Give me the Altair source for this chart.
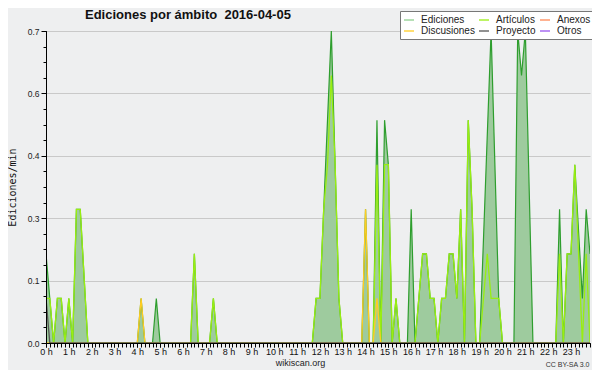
import altair as alt
import pandas as pd

# ---- data (minutes after midnight, edits per minute) ----
ed_min = [0, 10, 20, 30, 40, 50, 60, 70, 80, 90, 110,
          240, 250, 260, 280, 290, 300, 380, 390, 400, 430, 440, 450,
          700, 710, 720, 750, 760, 770, 780,
          830, 840, 850, 860, 870, 880, 890, 900, 910, 920, 930,
          950, 960, 970, 990, 1000, 1010, 1020, 1030, 1040, 1050, 1060, 1070,
          1080, 1090, 1100, 1110, 1120, 1130, 1140, 1170, 1190, 1200,
          1230, 1240, 1250, 1260, 1280,
          1340, 1350, 1360, 1370, 1380, 1390, 1410, 1420, 1430]
ed_val = [0.2, 0.1, 0, 0.1, 0.1, 0, 0.1, 0, 0.3, 0.3, 0,
          0, 0.1, 0, 0, 0.1, 0, 0, 0.2, 0, 0, 0.1, 0,
          0, 0.1, 0.1, 0.7, 0.4, 0.1, 0,
          0, 0.3, 0, 0, 0.5, 0, 0.5, 0.4, 0, 0.1, 0,
          0, 0.3, 0, 0.2, 0.2, 0.1, 0.1, 0, 0.1, 0.1, 0.2, 0.2,
          0.1, 0.3, 0, 0.5, 0.3, 0, 0, 0.7, 0.1, 0,
          0, 0.7, 0.6, 0.7, 0,
          0, 0.3, 0, 0.2, 0.2, 0.4, 0.1, 0.3, 0.2]

art_min = [0, 10, 20, 30, 40, 50, 60, 70, 80, 90, 110,
           380, 390, 400, 430, 440, 450,
           700, 710, 720, 730, 740, 750, 760, 770, 780,
           860, 870, 880, 890, 900, 910, 920, 930,
           970, 990, 1000, 1010, 1020, 1030, 1040, 1050, 1060, 1070, 1080, 1090,
           1100, 1110, 1120, 1130, 1140, 1160, 1170, 1190, 1200,
           1340, 1350, 1360, 1370, 1380, 1390, 1410, 1420, 1430]
art_val = [0.1, 0.1, 0, 0.1, 0.1, 0, 0.1, 0, 0.3, 0.3, 0,
           0, 0.2, 0, 0, 0.1, 0,
           0, 0.1, 0.1, 0.3, 0.4, 0.6, 0.4, 0.1, 0,
           0, 0.4, 0, 0.4, 0.4, 0, 0.1, 0,
           0, 0.2, 0.2, 0.1, 0.1, 0, 0.1, 0.1, 0.2, 0.2, 0.1, 0.3,
           0, 0.5, 0.3, 0, 0, 0.2, 0.1, 0.1, 0,
           0, 0.2, 0, 0.2, 0.2, 0.4, 0, 0.2, 0]

disc_min = [0, 240, 250, 260, 830, 840, 850, 860, 870, 880, 1430]
disc_val = [0, 0, 0.1, 0, 0, 0.3, 0, 0, 0.1, 0, 0]

proy_min = [0, 10, 1430]
proy_val = [0.1, 0, 0]

# legend entries (listed column by column: the legend fills its grid that way)
legend_names = ["Ediciones", "Discusiones", "Artículos", "Proyecto", "Anexos", "Otros"]
legend_colors = ["#8fd08f", "#ffcc22", "#99ee11", "#555555", "#ff8855", "#9955ee"]

hour_ticks = list(range(0, 1440, 60))
minor_x_ticks = list(range(0, 1440, 10))
major_y_ticks = [0, 0.14, 0.28, 0.42, 0.56, 0.7]
minor_y_ticks = [round(i * 0.035, 3) for i in range(21)]

# ---- frames ----
ed_df = pd.DataFrame({"t": ed_min, "v": ed_val})
art_df = pd.DataFrame({"t": art_min, "v": art_val, "s": "Artículos"})
disc_df = pd.DataFrame({"t": disc_min, "v": disc_val, "s": "Discusiones"})
proy_df = pd.DataFrame({"t": proy_min, "v": proy_val, "s": "Proyecto"})

xs = alt.Scale(domain=[0, 1430], nice=False, zero=False)
ys = alt.Scale(domain=[0, 0.7], nice=False)

x_major = alt.Axis(values=hour_ticks, labelExpr="(datum.value/60) + ' h'",
                   labelFont="Liberation Sans", labelFontSize=9, labelColor="#111",
                   labelPadding=0, tickSize=4, tickColor="black", domainColor="black",
                   labelFlush=False, labelOverlap=False, grid=False, zindex=1,
                   orient="bottom",
                   title="wikiscan.org", titleFont="Liberation Sans", titleFontSize=9,
                   titleFontWeight="normal", titleColor="#222", titleX=254, titleY=22,
                   titleAlign="center", titleBaseline="alphabetic")
y_major = alt.Axis(values=major_y_ticks, format=".1f", labelFont="Liberation Sans",
                   labelFontSize=8.5, labelColor="#222", labelPadding=2, tickSize=5,
                   tickColor="black", domainColor="black", grid=True, gridColor="#c9c9c9",
                   labelFlush=False, labelOverlap=False, orient="left",
                   title="Ediciones/min", titleFont="DejaVu Sans Mono", titleFontSize=10,
                   titleFontWeight="normal", titleColor="#111", titleX=-33.5, titleY=156,
                   titleAlign="center", titleBaseline="middle")

x_minor = alt.Axis(values=minor_x_ticks, labels=False, tickSize=4, tickColor="black",
                   domain=True, domainColor="black", grid=False, zindex=1,
                   orient="bottom",
                   title="CC BY-SA 3.0", titleFont="Liberation Sans", titleFontSize=7,
                   titleFontWeight="normal", titleColor="#333", titleX=543, titleY=23,
                   titleAlign="right", titleBaseline="alphabetic")
y_minor = alt.Axis(values=minor_y_ticks, labels=False, tickSize=3, tickColor="black",
                   domain=True, domainColor="black", grid=False, orient="left", zindex=1,
                   title=None)

area = alt.Chart(ed_df).mark_area(color="#9ecb9e", clip=True).encode(
    x=alt.X("t:Q", scale=xs, axis=x_major),
    y=alt.Y("v:Q", scale=ys, axis=y_major),
)
ed_line = alt.Chart(ed_df).mark_line(color="#2e9e2e", strokeWidth=1.2, clip=True).encode(
    x=alt.X("t:Q", scale=xs, axis=x_minor),
    y=alt.Y("v:Q", scale=ys, axis=y_minor),
)

color_enc = alt.Color(
    "s:N",
    scale=alt.Scale(domain=legend_names, range=legend_colors),
    legend=alt.Legend(title=None, orient="none", legendX=354, legendY=-20, columns=3,
                      direction="vertical",
                      symbolType="stroke", symbolSize=100, symbolStrokeWidth=1.3,
                      labelFont="Liberation Sans", labelFontSize=10, labelColor="#222",
                      labelOffset=6, columnPadding=1, rowPadding=-2.3, padding=3,
                      fillColor="white", strokeColor="#777777"),
)


def series(df):
    return alt.Chart(df).mark_line(strokeWidth=1.3, clip=True).encode(
        x=alt.X("t:Q", scale=xs, axis=None),
        y=alt.Y("v:Q", scale=ys, axis=None),
        color=color_enc,
    )


chart = alt.layer(
    area, ed_line, series(art_df), series(disc_df), series(proy_df)
).resolve_axis(x="independent", y="independent").properties(
    width=544, height=312,
    autosize=alt.AutoSizeParams(type="none"),
    padding={"left": 38, "top": 23, "right": 2, "bottom": 27},
    background="#eeeff0",
    title=alt.Title("Ediciones por ámbito\u00a0 2016-04-05", anchor="start",
                    frame="group", font="Liberation Sans", fontSize=13,
                    fontWeight="bold", color="#111", dx=39, dy=20, offset=9),
).configure_view(stroke=None)

chart.save("out.html", embed_options={"renderer": "svg", "actions": False})
